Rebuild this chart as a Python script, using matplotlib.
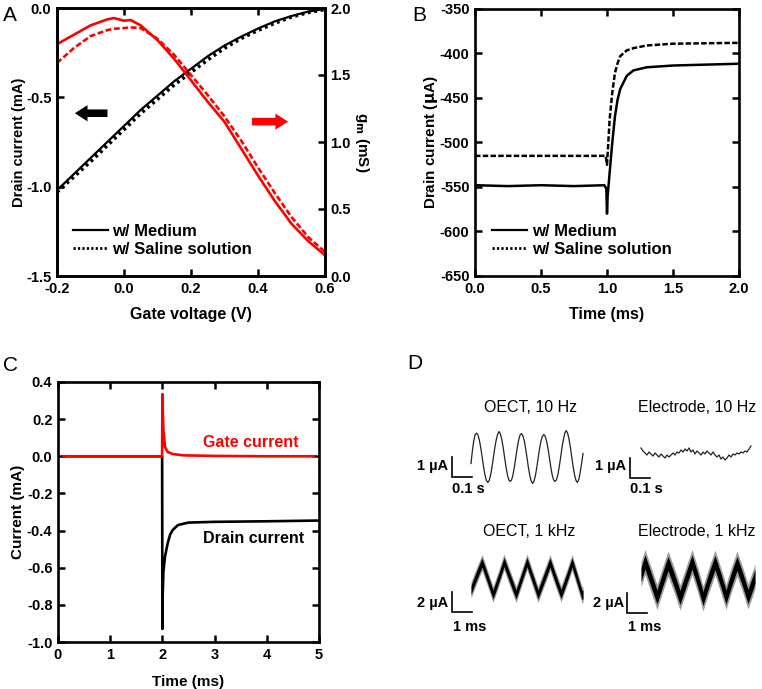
import numpy as np
import matplotlib.pyplot as plt
from matplotlib.lines import Line2D

plt.rcParams['font.family'] = ['Liberation Sans', 'DejaVu Sans']
plt.rcParams['axes.unicode_minus'] = False

W, H = 762, 689
RED = '#ff0000'

# -------------------------- A: transfer curve and transconductance --------------------------
vg = [-0.2, -0.15, -0.1, -0.05, 0.0, 0.05, 0.1, 0.15, 0.2, 0.25, 0.3, 0.35, 0.4, 0.45, 0.5, 0.55, 0.6]
id_medium = [-1.02, -0.93, -0.84, -0.75, -0.66, -0.57, -0.49, -0.41, -0.34, -0.27, -0.21,
             -0.16, -0.115, -0.075, -0.045, -0.02, -0.005]
id_saline = [-1.03, -0.945, -0.86, -0.77, -0.68, -0.59, -0.51, -0.43, -0.36, -0.29, -0.225,
             -0.17, -0.125, -0.085, -0.05, -0.025, -0.008]

vg_gm = [-0.2, -0.15, -0.1, -0.05, -0.03, 0.0, 0.02, 0.05, 0.1, 0.15, 0.2, 0.25, 0.3,
         0.35, 0.4, 0.45, 0.5, 0.55, 0.6]
gm_medium = [1.73, 1.80, 1.87, 1.915, 1.925, 1.905, 1.91, 1.87, 1.76, 1.62, 1.46, 1.30,
             1.15, 0.95, 0.75, 0.56, 0.39, 0.26, 0.155]
gm_saline = [1.59, 1.70, 1.79, 1.835, 1.845, 1.85, 1.855, 1.85, 1.77, 1.65, 1.50, 1.35,
             1.19, 1.01, 0.81, 0.62, 0.44, 0.29, 0.18]

# -------------------------- B: drain current step response --------------------------
tb_medium = [0.0, 0.25, 0.5, 0.75, 0.98, 0.995, 1.0, 1.005, 1.02, 1.04, 1.06, 1.08, 1.1,
             1.15, 1.2, 1.3, 1.5, 1.75, 2.0]
ib_medium = [-548, -549, -548, -549, -548, -552, -580, -560, -534, -500, -471, -452, -440,
             -425, -419, -415.5, -413.5, -412.5, -411.5]
tb_saline = [0.0, 0.25, 0.5, 0.75, 0.99, 1.0, 1.01, 1.02, 1.04, 1.06, 1.08, 1.1, 1.15,
             1.2, 1.3, 1.5, 1.75, 2.0]
ib_saline = [-515, -515, -515, -515, -515, -525, -500, -474, -444, -422, -411, -403,
             -396.5, -394, -391, -389, -388.5, -388]

# -------------------------- C: gate and drain current --------------------------
tc_drain = [0.1, 1.0, 1.995, 2.0, 2.005, 2.02, 2.05, 2.1, 2.15, 2.2, 2.3, 2.5, 3.0, 4.0, 5.0]
ic_drain = [0.0, 0.0, 0.0, -0.93, -0.75, -0.62, -0.54, -0.47, -0.42, -0.396, -0.37,
            -0.357, -0.353, -0.35, -0.346]
tc_gate = [0.1, 1.0, 1.995, 2.0, 2.01, 2.02, 2.05, 2.1, 2.2, 2.4, 3.0, 4.0, 4.9]
ic_gate = [0.0, 0.0, 0.0, 0.335, 0.22, 0.14, 0.05, 0.024, 0.012, 0.005, 0.002, 0.0, 0.0]

# -------------------------- D: recorded sine signals --------------------------
# 10 Hz traces: sample interval (s), current (uA)
oect10_dt = 0.007
oect10_i = [-0.3, 0.35, 0.85, 1.15,
            1.22, 1.12, 0.86, 0.47, 0.0, -0.48, -0.88, -1.15, -1.25, -1.15, -0.88, -0.48, 0.0, 0.48, 0.88, 1.15,
            1.3, 1.18, 0.9, 0.5, 0.0, -0.47, -0.86, -1.12, -1.2, -1.12, -0.86, -0.47, 0.0, 0.47, 0.86, 1.12,
            1.2, 1.1, 0.85, 0.46, 0.0, -0.5, -0.9, -1.18, -1.3, -1.18, -0.9, -0.5, 0.0, 0.46, 0.83, 1.06,
            1.15, 1.06, 0.82, 0.45, 0.0, -0.48, -0.88, -1.12, -1.2, -1.12, -0.88, -0.48, 0.0, 0.5, 0.9, 1.22,
            1.35, 1.22, 0.92, 0.5, 0.0, -0.48, -0.88, -1.15, -1.25, -1.1, -0.75, -0.3, 0.2]

elec10_dt = 0.01
elec10_i = [0.25, 0.1, 0.0, -0.1, 0.05, -0.05, -0.15, 0.0, -0.1, -0.2, -0.05, -0.15, -0.25,
            -0.1, -0.2, -0.1, 0.0, -0.1, 0.05, 0.0, 0.15, 0.05, 0.2, 0.1, 0.25, 0.05, 0.15,
            -0.05, 0.1, 0.0, -0.1, 0.05, -0.05, 0.1, 0.0, -0.1, 0.05, -0.1, -0.2, -0.1, -0.3,
            -0.2, -0.35, -0.25, -0.1, -0.2, -0.05, -0.1, 0.0, -0.05, 0.05, 0.0, 0.1, 0.05,
            0.2, 0.35]

# 1 kHz traces: time (ms), centre current (uA) and noise half-widths (uA)
oect1k_t = [0.0, 0.28, 0.55, 0.83, 1.1, 1.38, 1.65, 1.95, 2.25, 2.52, 2.8, 3.08, 3.35,
            3.65, 3.95, 4.22, 4.5, 4.78, 5.05, 5.3, 5.55, 5.6]
oect1k_i = [-1.15, 0.3, 1.6, 0.0, -1.6, 0.0, 1.65, 0.0, -1.6, 0.0, 1.65, 0.0, -1.6, 0.0,
            1.6, 0.0, -1.55, 0.0, 1.6, 0.0, -1.65, -1.6]
oect1k_noise = [0.45, 0.8]

elec1k_t = [0.0, 0.2, 0.5, 0.8, 1.08, 1.35, 1.65, 1.95, 2.25, 2.55, 2.83, 3.1, 3.4, 3.7,
            3.98, 4.25, 4.52, 4.8, 5.08, 5.35, 5.7]
elec1k_i = [0.5, 1.75, 0.0, -1.75, 0.0, 1.6, 0.0, -1.8, 0.0, 1.75, 0.0, -1.9, 0.0, 1.7,
            0.0, -1.75, 0.0, 1.6, 0.0, -1.7, 0.3]
elec1k_noise = [0.7, 1.25]


def px_box(left, top, right, bottom):
    return [left / W, 1 - bottom / H, (right - left) / W, (bottom - top) / H]


def ftext(x, y, s, **kw):
    fig.text(x / W, 1 - y / H, s, **kw)


def style_axes(ax, top=True, right=True):
    for sp in ax.spines.values():
        sp.set_linewidth(1.9)
    ax.tick_params(direction='in', length=5, width=1.8, top=top, right=right,
                   labelsize=10.5, pad=4)
    for lab in ax.get_xticklabels() + ax.get_yticklabels():
        lab.set_fontweight('bold')


fig = plt.figure(figsize=(W / 100, H / 100), dpi=100)
legend_kw = dict(frameon=False, handlelength=2.1, handletextpad=0.3, labelspacing=0.2,
                 borderpad=0, borderaxespad=0, prop=dict(size=12, weight='bold'))

# -------------------------- PANEL A --------------------------
axA = fig.add_axes(px_box(57, 8, 325, 276))
axA.plot(vg, id_medium, color='k', lw=1.6)
axA.plot(vg, id_saline, color='k', lw=2.6, ls=(0, (0.8, 1.0)))
axA.set_xlim(-0.2, 0.6)
axA.set_ylim(-1.5, 0.0)
axA.set_xticks([-0.2, 0.0, 0.2, 0.4, 0.6])
axA.set_xticklabels(['-0.2', '0.0', '0.2', '0.4', '0.6'])
axA.set_yticks([-1.5, -1.0, -0.5, 0.0])
axA.set_yticklabels(['-1.5', '-1.0', '-0.5', '0.0'])
axA.set_xlabel('Gate voltage (V)', labelpad=8, fontsize=11.5, fontweight='bold')
axA.set_ylabel('Drain current (mA)', labelpad=0, fontsize=10.5, fontweight='bold')
style_axes(axA, top=True, right=False)

axA2 = axA.twinx()
axA2.plot(vg_gm, gm_medium, color=RED, lw=1.9)
axA2.plot(vg_gm, gm_saline, color=RED, lw=1.9, ls=(0, (2.2, 1.0)))
axA2.set_ylim(0.0, 2.0)
axA2.set_yticks([0.0, 0.5, 1.0, 1.5, 2.0])
axA2.set_yticklabels(['0.0', '0.5', '1.0', '1.5', '2.0'])
axA2.set_ylabel('g$_\\mathbf{m}$ (mS)', rotation=270, labelpad=14, fontsize=11,
                fontweight='bold')
style_axes(axA2, top=False, right=True)

arrow = dict(arrowstyle='simple,head_length=0.7,head_width=0.9,tail_width=0.42',
             mutation_scale=13, lw=0)
axA.annotate('', xy=(-0.155, -0.589), xytext=(-0.041, -0.589),
             arrowprops=dict(color='k', **arrow))
axA.annotate('', xy=(0.498, -0.636), xytext=(0.374, -0.636),
             arrowprops=dict(color=RED, **arrow))

hA = [Line2D([], [], color='k', lw=1.6), Line2D([], [], color='k', lw=2.0, ls=(0, (0.8, 0.8)))]
axA.legend(hA, ['w/ Medium', 'w/ Saline solution'], loc='upper left',
           bbox_to_anchor=(0.058, 0.195), **legend_kw)
ftext(3, 21, 'A', fontsize=15)

# -------------------------- PANEL B --------------------------
axB = fig.add_axes(px_box(475, 9, 739, 276))
axB.plot(tb_medium, ib_medium, color='k', lw=1.8)
axB.plot(tb_saline, ib_saline, color='k', lw=1.8, ls=(0, (2.2, 0.9)))
axB.set_xlim(0, 2.0)
axB.set_ylim(-650, -350)
axB.set_xticks([0.0, 0.5, 1.0, 1.5, 2.0])
axB.set_xticklabels(['0.0', '0.5', '1.0', '1.5', '2.0'])
axB.set_yticks(range(-650, -349, 50))
axB.set_xlabel('Time (ms)', labelpad=8, fontsize=11.5, fontweight='bold')
axB.set_ylabel('Drain current ($\\mathbf{\\mu}$A)', labelpad=0, fontsize=11,
               fontweight='bold')
style_axes(axB)
hB = [Line2D([], [], color='k', lw=1.6), Line2D([], [], color='k', lw=2.0, ls=(0, (0.8, 0.8)))]
axB.legend(hB, ['w/ Medium', 'w/ Saline solution'], loc='upper left',
           bbox_to_anchor=(0.066, 0.196), **legend_kw)
ftext(412, 21, 'B', fontsize=15)

# -------------------------- PANEL C --------------------------
axC = fig.add_axes(px_box(58, 382, 319, 642))
axC.plot(tc_drain, ic_drain, color='k', lw=1.9)
axC.plot(tc_gate, ic_gate, color=RED, lw=1.9)
axC.set_xlim(0, 5)
axC.set_ylim(-1.0, 0.4)
axC.set_xticks(range(0, 6))
axC.set_yticks([-1.0, -0.8, -0.6, -0.4, -0.2, 0.0, 0.2, 0.4])
axC.set_yticklabels(['-1.0', '-0.8', '-0.6', '-0.4', '-0.2', '0.0', '0.2', '0.4'])
axC.set_xlabel('Time (ms)', labelpad=10, fontsize=11, fontweight='bold')
axC.set_ylabel('Current (mA)', labelpad=1, fontsize=11, fontweight='bold')
style_axes(axC)
axC.text(3.70, 0.075, 'Gate current', color=RED, ha='center', va='center',
         fontsize=11.5, fontweight='bold')
axC.text(3.75, -0.445, 'Drain current', color='k', ha='center', va='center',
         fontsize=11.5, fontweight='bold')
ftext(3, 371, 'C', fontsize=15)

# -------------------------- PANEL D --------------------------
def trace_axes(box, corner, sx, sy):
    ax = fig.add_axes(px_box(*box))
    l, t, r, b = box
    ax.set_xlim((l - corner[0]) / sx, (r - corner[0]) / sx)
    ax.set_ylim((corner[1] - b) / sy, (corner[1] - t) / sy)
    ax.axis('off')
    return ax


def scale_bar(ax, tlen, ilen):
    ax.plot([0, 0, tlen], [ilen, 0, 0], color='k', lw=1.2, solid_joinstyle='miter')


# OECT, 10 Hz
ax = trace_axes((440, 420, 595, 495), (452, 477), 200.0, 20.0)
t0, i0 = (471 - 452) / 200.0, (477 - 457.5) / 20.0
to = np.arange(len(oect10_i)) * oect10_dt
ax.plot(to + t0, np.array(oect10_i) + i0, color='#222222', lw=0.9)
scale_bar(ax, 0.1, 1.0)

# Electrode, 10 Hz
ax = trace_axes((618, 430, 762, 495), (630, 478), 200.0, 20.0)
t0, i0 = (641 - 630) / 200.0, (478 - 453) / 20.0
te = np.arange(len(elec10_i)) * elec10_dt
ax.plot(te + t0, np.array(elec10_i) + i0, color='#222222', lw=0.9)
scale_bar(ax, 0.1, 1.0)

# OECT, 1 kHz
ax = trace_axes((440, 535, 595, 630), (452, 612), 20.0, 10.0)
t0, i0 = (471 - 452) / 20.0, (612 - 578.5) / 10.0
tt, ii = np.array(oect1k_t) + t0, np.array(oect1k_i) + i0
ax.fill_between(tt, ii - oect1k_noise[1], ii + oect1k_noise[1], color='#9a9a9a', lw=0)
ax.fill_between(tt, ii - oect1k_noise[0], ii + oect1k_noise[0], color='k', lw=0)
scale_bar(ax, 1.0, 2.0)

# Electrode, 1 kHz
ax = trace_axes((618, 535, 762, 630), (627, 613), 20.0, 10.0)
t0, i0 = (641 - 627) / 20.0, (613 - 579.5) / 10.0
tt, ii = np.array(elec1k_t) + t0, np.array(elec1k_i) + i0
ax.fill_between(tt, ii - elec1k_noise[1], ii + elec1k_noise[1], color='#9a9a9a', lw=0)
ax.fill_between(tt, ii - elec1k_noise[0], ii + elec1k_noise[0], color='k', lw=0)
scale_bar(ax, 1.0, 2.0)

title = dict(fontsize=11.5, va='center', ha='center')
ftext(530, 408, 'OECT, 10 Hz', **title)
ftext(697, 408, 'Electrode, 10 Hz', **title)
ftext(529, 531, 'OECT, 1 kHz', **title)
ftext(697, 531, 'Electrode, 1 kHz', **title)
small = dict(fontsize=10.5, va='center', fontweight='bold')
for xr, xl, yv, yt, lv, lt in [(448, 452, 466, 489, '1 µA', '0.1 s'),
                               (626, 630, 466, 489, '1 µA', '0.1 s'),
                               (448, 453, 603, 627, '2 µA', '1 ms'),
                               (624, 628, 603, 627, '2 µA', '1 ms')]:
    ftext(xr, yv, lv, ha='right', **small)
    ftext(xl, yt, lt, ha='left', **small)
ftext(407, 369, 'D', fontsize=15)

fig.savefig('out.png', dpi=100)
